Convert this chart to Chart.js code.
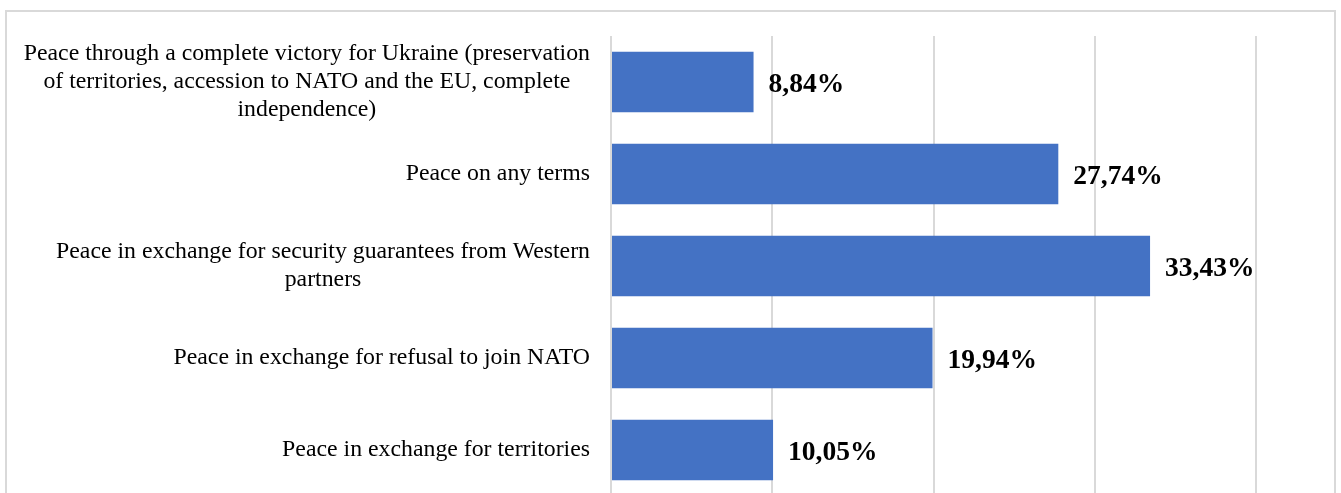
<!DOCTYPE html>
<html>
<head>
<meta charset="utf-8">
<script src="https://cdn.jsdelivr.net/npm/chart.js@4"></script>
<style>
  html, body { margin: 0; padding: 0; background: #fff; overflow: hidden; }
  canvas { display: block; }
</style>
</head>
<body>
<canvas id="peace-chart" width="1341" height="500"></canvas>
<script>
const categories = [
  ["Peace through a complete victory for Ukraine (preservation", "of territories, accession to NATO and the EU, complete", "independence)"],
  ["Peace on any terms"],
  ["Peace in exchange for security guarantees from Western", "partners"],
  ["Peace in exchange for refusal to join NATO"],
  ["Peace in exchange for territories"]
];
const shares = [8.84, 27.74, 33.43, 19.94, 10.05];
const valueLabels = ["8,84%", "27,74%", "33,43%", "19,94%", "10,05%"];

// light frame around the whole chart
const framePlugin = {
  id: "frame",
  beforeDraw(chart) {
    const ctx = chart.ctx;
    ctx.save();
    ctx.strokeStyle = "#d9d9d9";
    ctx.lineWidth = 2;
    ctx.strokeRect(6, 11, 1329, 600);
    ctx.restore();
  }
};

// category labels: block right-aligned, lines centred within the block
const categoryLabels = {
  id: "categoryLabels",
  afterDraw(chart) {
    const ctx = chart.ctx;
    const yScale = chart.scales.y;
    const right = 590;
    const lineHeight = 28;
    ctx.save();
    ctx.font = "23.8px 'Liberation Serif', 'Times New Roman', serif";
    ctx.fillStyle = "#000";
    ctx.textAlign = "center";
    ctx.textBaseline = "middle";
    categories.forEach((lines, i) => {
      const w = Math.max(...lines.map((l) => ctx.measureText(l).width));
      const cx = right - w / 2;
      const cy = yScale.getPixelForValue(i);
      const top = cy - ((lines.length - 1) * lineHeight) / 2;
      lines.forEach((l, j) => ctx.fillText(l, cx, top + j * lineHeight));
    });
    ctx.restore();
  }
};

// bold value labels at the end of each bar
const valueLabelPlugin = {
  id: "valueLabels",
  afterDatasetsDraw(chart) {
    const ctx = chart.ctx;
    const meta = chart.getDatasetMeta(0);
    ctx.save();
    ctx.font = "bold 27.5px 'Liberation Serif', 'Times New Roman', serif";
    ctx.fillStyle = "#000";
    ctx.textAlign = "left";
    ctx.textBaseline = "middle";
    meta.data.forEach((bar, i) => {
      ctx.fillText(valueLabels[i], bar.x + 15, bar.y + 3);
    });
    ctx.restore();
  }
};

const ctx = document.getElementById("peace-chart").getContext("2d");

new Chart(ctx, {
  type: "bar",
  data: {
    labels: categories.map((c) => c.join(" ")),
    datasets: [
      {
        data: shares,
        backgroundColor: "#4472c4",
        borderWidth: 0,
        categoryPercentage: 1,
        barPercentage: 0.66
      }
    ]
  },
  options: {
    indexAxis: "y",
    responsive: false,
    animation: false,
    layout: {
      padding: { top: 36, right: 85, bottom: 4, left: 0 }
    },
    plugins: {
      legend: { display: false },
      tooltip: { enabled: false },
      title: { display: false }
    },
    scales: {
      x: {
        min: 0,
        max: 40,
        ticks: { display: false, stepSize: 10 },
        grid: { color: "#d9d9d9", lineWidth: 2, drawTicks: false },
        border: { display: false },
        afterFit(scale) { scale.height = 0; }
      },
      y: {
        ticks: { display: false },
        grid: { display: false, drawTicks: false },
        border: { display: false },
        afterFit(scale) { scale.width = 611; }
      }
    }
  },
  plugins: [framePlugin, categoryLabels, valueLabelPlugin]
});
</script>
</body>
</html>
